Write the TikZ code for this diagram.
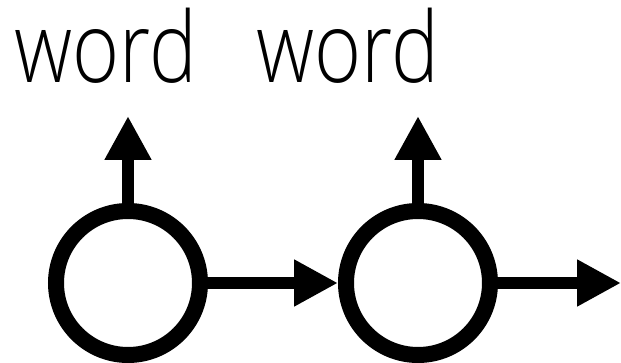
\documentclass[tikz,border=0pt]{standalone}
\usepackage{fontspec}
\setmainfont{Open Sans Light}
\usetikzlibrary{arrows.meta}
\begin{document}
\begin{tikzpicture}[x=1pt,y=-1pt,
  cell/.style={circle,draw=black,line width=16pt,minimum size=144pt,inner sep=0pt,fill=white},
  flow/.style={line width=11.5pt,-{Triangle[width=44pt,length=44pt]}},
  label/.style={anchor=base,inner sep=0pt,font=\fontsize{98}{100}\selectfont}]
  \useasboundingbox (0,0) rectangle (621,363);
  % recurrent cells
  \node[cell] (c1) at (128,283) {};
  \node[cell] (c2) at (418,283) {};
  % outputs
  \node[label] (w1) at (106,83) {\scalebox{0.82}[1]{word}};
  \node[label] (w2) at (347.5,83) {\scalebox{0.82}[1]{word}};
  \coordinate (o1) at (128,116);
  \coordinate (o2) at (418,116);
  \coordinate (next) at (621,283);
  \draw[flow] (c1.north) -- (o1);
  \draw[flow] (c2.north) -- (o2);
  \draw[flow] (c1.east) -- (c2.west);
  \draw[flow] (c2.east) -- (next);
\end{tikzpicture}
\end{document}
